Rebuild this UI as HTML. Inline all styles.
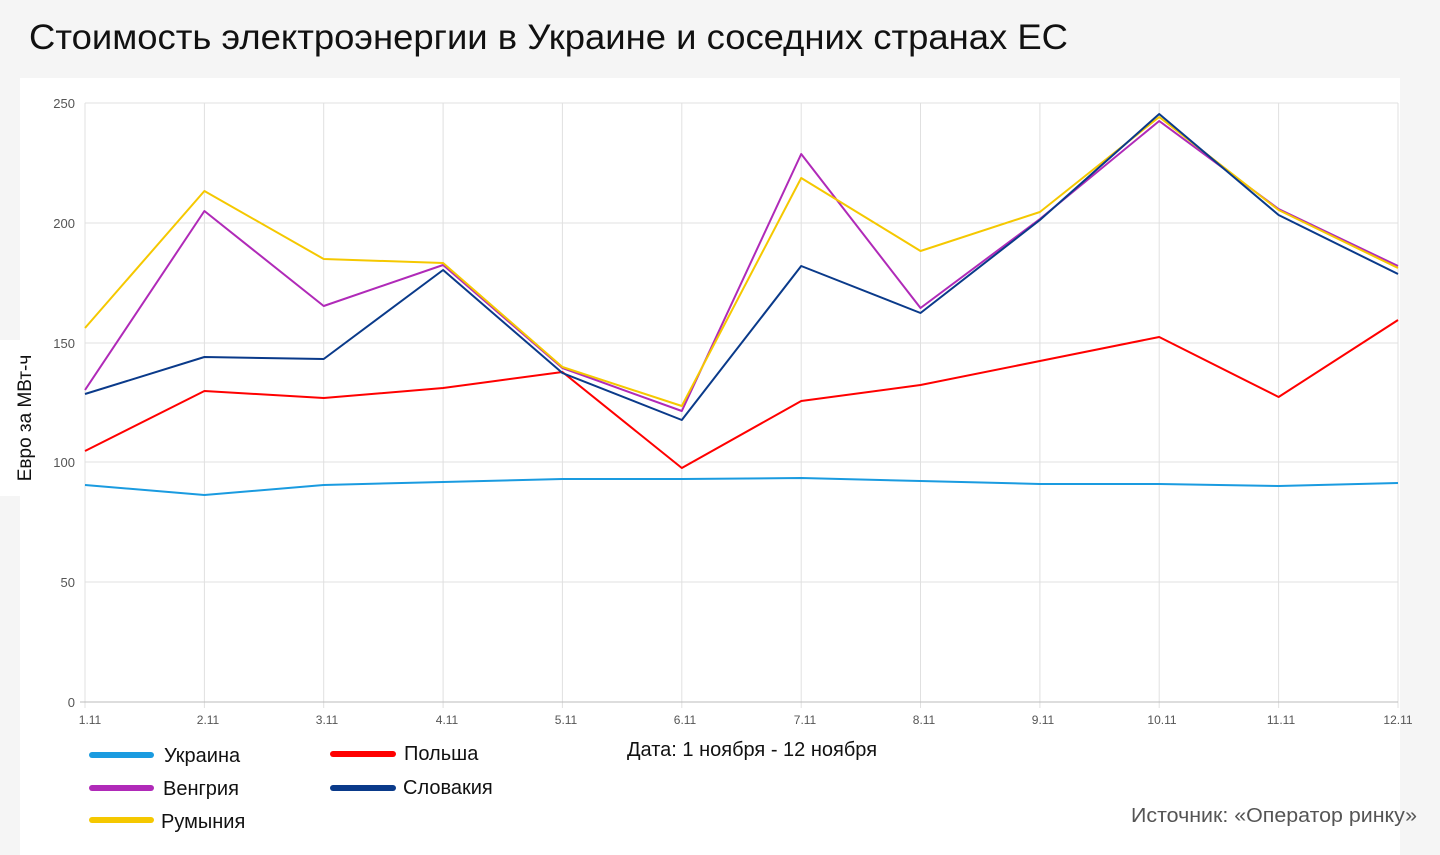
<!DOCTYPE html>
<html><head><meta charset="utf-8"><style>
body{margin:0;width:1440px;height:855px;background:#f5f5f5;overflow:hidden;font-family:"Liberation Sans","DejaVu Sans",sans-serif}
</style></head><body>
<svg width="1440" height="855" xmlns="http://www.w3.org/2000/svg" style="position:absolute;left:0;top:0">
<rect x="20" y="78" width="1380" height="777" fill="#fff"/>
<rect x="0" y="340" width="20" height="156" fill="#fff"/>
<text x="29" y="49" font-size="35" fill="#111" textLength="1039" lengthAdjust="spacingAndGlyphs">Стоимость электроэнергии в Украине и соседних странах ЕС</text>
<g stroke="#e0e0e0" stroke-width="1">
<line x1="85" y1="103" x2="1398" y2="103"/><line x1="85" y1="223" x2="1398" y2="223"/>
<line x1="85" y1="343" x2="1398" y2="343"/><line x1="85" y1="462" x2="1398" y2="462"/>
<line x1="85" y1="582" x2="1398" y2="582"/>
<line x1="85" y1="103" x2="85" y2="708"/><line x1="204.4" y1="103" x2="204.4" y2="708"/>
<line x1="323.7" y1="103" x2="323.7" y2="708"/><line x1="443.1" y1="103" x2="443.1" y2="708"/>
<line x1="562.4" y1="103" x2="562.4" y2="708"/><line x1="681.8" y1="103" x2="681.8" y2="708"/>
<line x1="801.2" y1="103" x2="801.2" y2="708"/><line x1="920.5" y1="103" x2="920.5" y2="708"/>
<line x1="1039.9" y1="103" x2="1039.9" y2="708"/><line x1="1159.2" y1="103" x2="1159.2" y2="708"/>
<line x1="1278.6" y1="103" x2="1278.6" y2="708"/><line x1="1398" y1="103" x2="1398" y2="708"/>
</g>
<line x1="80" y1="702" x2="1398" y2="702" stroke="#bbb"/>
<g font-size="13" fill="#555" text-anchor="end">
<text x="75" y="108">250</text><text x="75" y="228">200</text><text x="75" y="348">150</text>
<text x="75" y="467">100</text><text x="75" y="587">50</text><text x="75" y="707">0</text>
</g>
<g font-size="12" fill="#555" text-anchor="middle">
<text x="90" y="724">1.11</text><text x="208" y="724">2.11</text><text x="327" y="724">3.11</text>
<text x="447" y="724">4.11</text><text x="566" y="724">5.11</text><text x="685" y="724">6.11</text>
<text x="805" y="724">7.11</text><text x="924" y="724">8.11</text><text x="1043" y="724">9.11</text>
<text x="1162" y="724">10.11</text><text x="1281" y="724">11.11</text><text x="1398" y="724">12.11</text>
</g>
<text transform="translate(31,418) rotate(-90)" font-size="19" fill="#111" text-anchor="middle">Евро за МВт-ч</text>
<g fill="none" stroke-width="2" stroke-linejoin="round">
<polyline stroke="#1a9be0" points="85,485 204.4,495 323.7,485 443.1,482 562.4,479 681.8,479 801.2,478 920.5,481 1039.9,484 1159.2,484 1278.6,486 1398,483"/>
<polyline stroke="#ff0000" points="85,451 204.4,391 323.7,398 443.1,388 562.4,372 681.8,468 801.2,401 920.5,385 1039.9,361 1159.2,337 1278.6,397 1398,320"/>
<polyline stroke="#b02ab8" points="85,390 204.4,211 323.7,306 443.1,265 562.4,368 681.8,411 801.2,154 920.5,308 1039.9,219 1159.2,121 1278.6,209 1398,266"/>
<polyline stroke="#f5c800" points="85,328 204.4,191 323.7,259 443.1,263 562.4,367 681.8,406 801.2,178 920.5,251 1039.9,212 1159.2,117 1278.6,210 1398,268"/>
<polyline stroke="#0a3a8a" points="85,394 204.4,357 323.7,359 443.1,270 562.4,373 681.8,420 801.2,266 920.5,313 1039.9,220 1159.2,114 1278.6,215 1398,274"/>
</g>
<g stroke-width="6" stroke-linecap="round">
<line x1="92" y1="755" x2="151" y2="755" stroke="#1a9be0"/>
<line x1="92" y1="788" x2="151" y2="788" stroke="#b02ab8"/>
<line x1="92" y1="820" x2="151" y2="820" stroke="#f5c800"/>
<line x1="333" y1="754" x2="393" y2="754" stroke="#ff0000"/>
<line x1="333" y1="788" x2="393" y2="788" stroke="#0a3a8a"/>
</g>
<g font-size="20" fill="#111">
<text x="164" y="762">Украина</text><text x="163" y="795">Венгрия</text><text x="161" y="828">Румыния</text>
<text x="404" y="760">Польша</text><text x="403" y="794">Словакия</text>
<text x="627" y="756">Дата: 1 ноября - 12 ноября</text>
</g>
<text x="1131" y="822" font-size="20" fill="#555" textLength="286" lengthAdjust="spacingAndGlyphs">Источник: «Оператор ринку»</text>
</svg>
</body></html>
